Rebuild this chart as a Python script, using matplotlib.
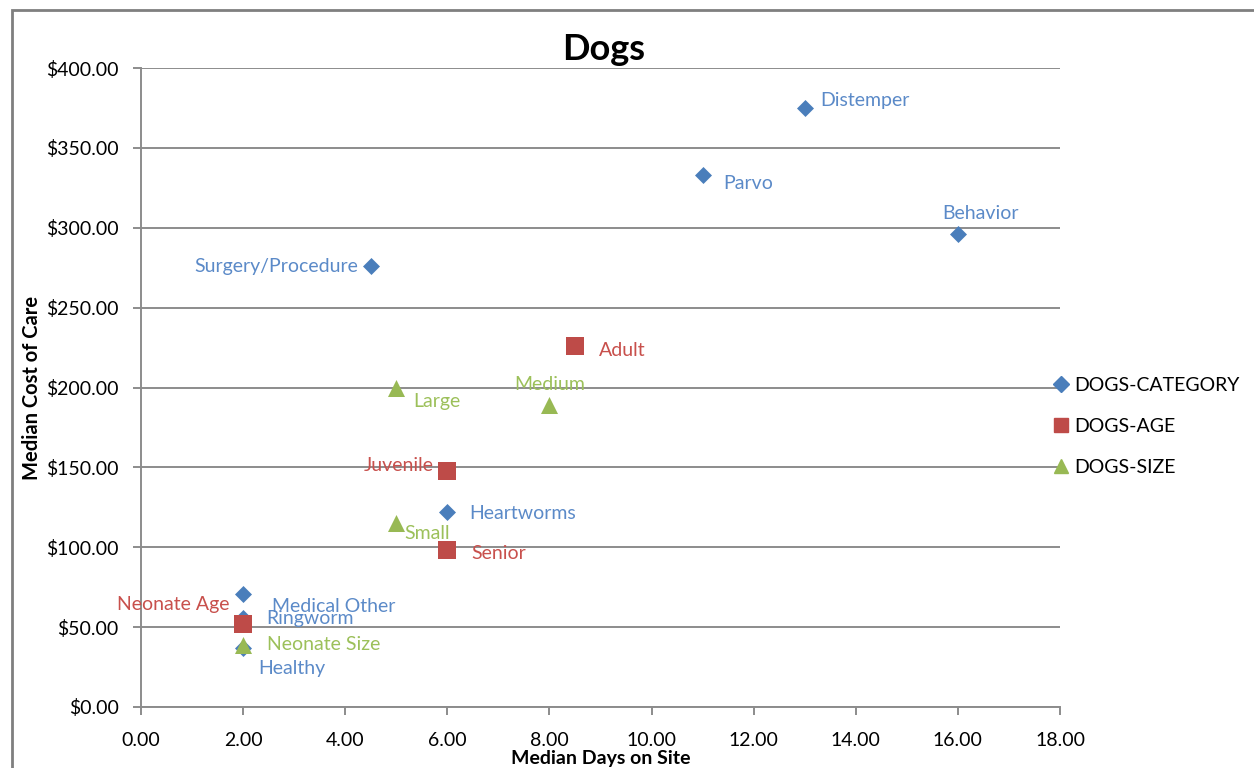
import matplotlib
matplotlib.use("Agg")
import matplotlib.pyplot as plt
from matplotlib.lines import Line2D
from matplotlib.patches import Rectangle

plt.rcParams['font.family'] = ['Lato', 'DejaVu Sans']

# ---- data ----
cat_names = ["Distemper", "Parvo", "Behavior", "Surgery/Procedure", "Heartworms",
             "Medical Other", "Ringworm", "Healthy"]
cat_days = [13, 11, 16, 4.5, 6, 2, 2, 2]
cat_cost = [375, 333, 296, 276, 122, 71, 56, 37]

age_names = ["Adult", "Juvenile", "Senior", "Neonate Age"]
age_days = [8.5, 6, 6, 2]
age_cost = [226, 148, 98, 52]

size_names = ["Large", "Medium", "Small", "Neonate Size"]
size_days = [5, 8, 5, 2]
size_cost = [200, 189, 115, 39]

series_names = ["DOGS-CATEGORY", "DOGS-AGE", "DOGS-SIZE"]
x_ticks = [0, 2, 4, 6, 8, 10, 12, 14, 16, 18]
y_ticks = [0, 50, 100, 150, 200, 250, 300, 350, 400]

BLUE = "#4A7EBB"
RED = "#BE4B48"
GREEN = "#98B954"
LBLUE = "#5B8AC8"
LRED = "#C8504C"
LGREEN = "#9CC05A"

# label offsets in points (dx, dy, ha, va)
cat_off = [(11, 5, 'left', 'center'), (15, -6, 'left', 'center'), (16, 15, 'center', 'center'),
           (-9, 0, 'right', 'center'), (16, -1, 'left', 'center'), (21, -9, 'left', 'center'),
           (17, -1, 'left', 'center'), (11, -15, 'left', 'center')]
age_off = [(17, -3, 'left', 'center'), (-10, 4, 'right', 'center'), (17, -2, 'left', 'center'),
           (-10, 14, 'right', 'center')]
size_off = [(12, -10, 'left', 'center'), (0, 15, 'center', 'center'), (6, -7, 'left', 'center'),
            (17, 0, 'left', 'center')]

fig = plt.figure(figsize=(12.54, 7.68), dpi=100)
ax = fig.add_axes([141/1254, 1-707/768, (1060-141)/1254, (707-68)/768])

ax.set_xlim(0, 18)
ax.set_ylim(0, 400)
ax.set_xticks(x_ticks)
ax.set_xticklabels([f"{v:.2f}" for v in x_ticks])
ax.set_yticks(y_ticks)
ax.set_yticklabels([f"${v:.2f}" for v in y_ticks])
ax.grid(axis='y', color='#8C8C8C', linewidth=1.4)
ax.set_axisbelow(True)
for s in ['top', 'right']:
    ax.spines[s].set_visible(False)
for s in ['left', 'bottom']:
    ax.spines[s].set_color('#8C8C8C')
    ax.spines[s].set_linewidth(1.4)
ax.tick_params(axis='both', colors='#8C8C8C', labelcolor='black', labelsize=14, length=6, width=1.4)
ax.tick_params(axis='x', pad=12)
ax.tick_params(axis='y', pad=10)

ax.scatter(cat_days, cat_cost, marker='D', s=75, color=BLUE, zorder=3, linewidths=0)
ax.scatter(age_days, age_cost, marker='s', s=150, color=RED, zorder=4, linewidths=0)
ax.scatter(size_days, size_cost, marker='^', s=150, color=GREEN, zorder=5, linewidths=0)

for names, xs, ys, offs, col in [(cat_names, cat_days, cat_cost, cat_off, LBLUE),
                                 (age_names, age_days, age_cost, age_off, LRED),
                                 (size_names, size_days, size_cost, size_off, LGREEN)]:
    for n, x, y, (dx, dy, ha, va) in zip(names, xs, ys, offs):
        ax.annotate(n, (x, y), xytext=(dx, dy), textcoords='offset points',
                    ha=ha, va=va, color=col, fontsize=14, zorder=6)

fig.text((141 + 1060) / 2 / 1254 + 3/1254, 1 - 50/768, "Dogs", fontsize=26, fontweight='bold',
         ha='center', va='center')
ax.set_xlabel("Median Days on Site", fontsize=14, fontweight='bold', labelpad=0.5)
ax.set_ylabel("Median Cost of Care", fontsize=14.5, fontweight='bold', labelpad=3)

handles = [Line2D([], [], marker='D', color=BLUE, linestyle='None', markersize=8),
           Line2D([], [], marker='s', color=RED, linestyle='None', markersize=10),
           Line2D([], [], marker='^', color=GREEN, linestyle='None', markersize=10)]
leg = ax.legend(handles, series_names, loc='upper left', bbox_to_anchor=(0.993, 0.517),
                frameon=False, fontsize=14, handlelength=0.8, handletextpad=0.25,
                labelspacing=1.25, borderpad=0, borderaxespad=0)

# outer frame
fig.add_artist(Rectangle((12/1254, -0.1), 1.2, 1 - 10/768 + 0.1, transform=fig.transFigure,
                         fill=False, edgecolor='#7F7F7F', linewidth=2))
fig.text(14/1254, 1 + 4/768, "Figure", fontsize=16, fontweight='bold', va='baseline', ha='left')

fig.savefig("out.png", dpi=100)
